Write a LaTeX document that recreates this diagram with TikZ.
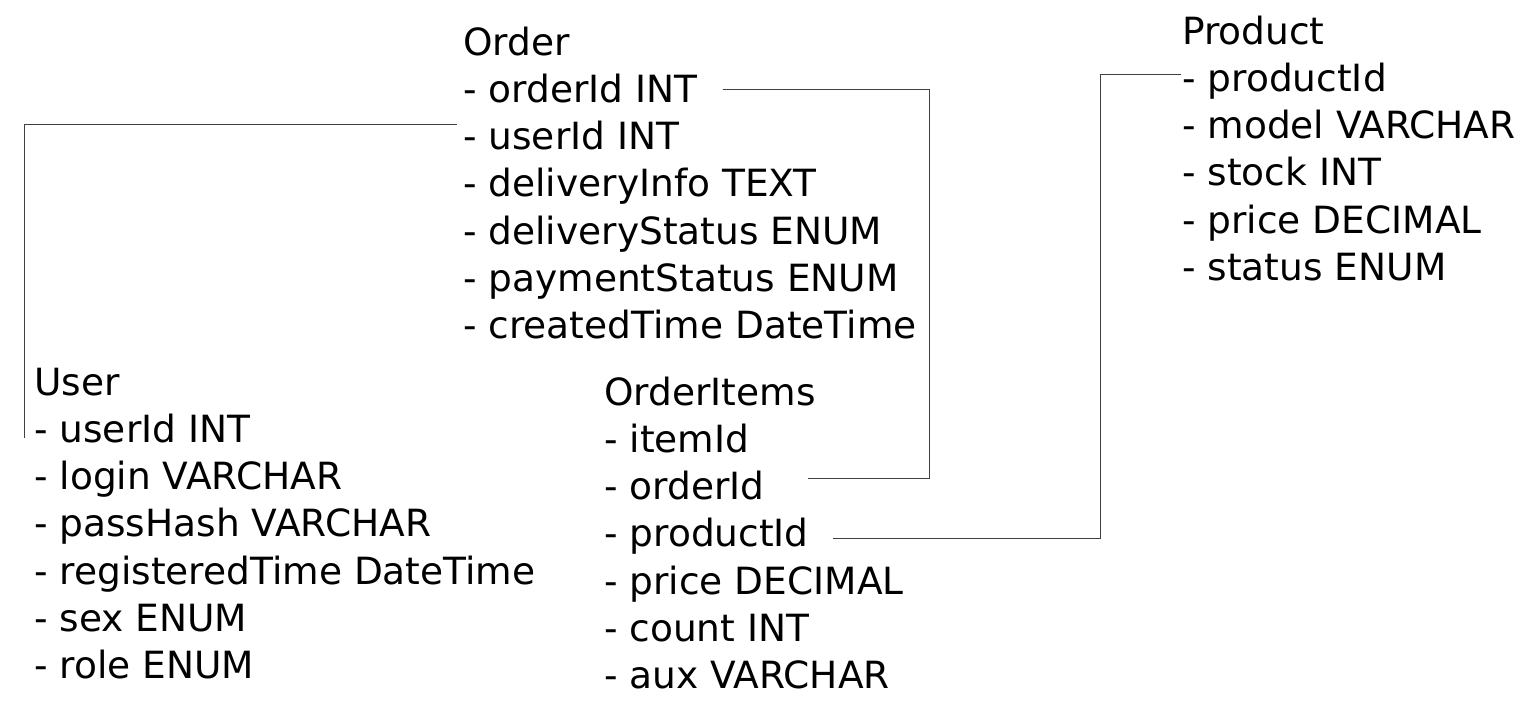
\documentclass[tikz,border=0pt]{standalone}
\usepackage{fontspec}
\setmainfont{DejaVu Sans}
\usepackage{tikz}
\usetikzlibrary{positioning}

\newcommand{\fieldfont}{\fontsize{37.5}{47}\selectfont}

\begin{document}
\begin{tikzpicture}[
    x=1pt, y=-1pt,
    node distance=0pt,
    field/.style={inner sep=0pt, text height=34pt, text depth=12.8pt, font=\fieldfont},
    title/.style={field, anchor=north west},
    row/.style={field, below right=of #1.south west},
    link/.style={draw=black!75, line width=1pt}
]
\useasboundingbox (0,0) rectangle (1526,713);

% Order
\node[title] (ord) at (463,21) {Order};
\node[row=ord] (ordOrderId) {- orderId INT};
\node[row=ordOrderId] (ordUserId) {- userId INT};
\node[row=ordUserId] (ordInfo) {- deliveryInfo TEXT};
\node[row=ordInfo] (ordDelivery) {- deliveryStatus ENUM};
\node[row=ordDelivery] (ordPayment) {- paymentStatus ENUM};
\node[row=ordPayment] (ordCreated) {- createdTime DateTime};

% User
\node[title] (usr) at (34,361) {User};
\node[row=usr] (usrUserId) {- userId INT};
\node[row=usrUserId] (usrLogin) {- login VARCHAR};
\node[row=usrLogin] (usrPass) {- passHash VARCHAR};
\node[row=usrPass] (usrTime) {- registeredTime DateTime};
\node[row=usrTime] (usrSex) {- sex ENUM};
\node[row=usrSex] (usrRole) {- role ENUM};

% OrderItems
\node[title] (itm) at (604,371) {OrderItems};
\node[row=itm] (itmItemId) {- itemId};
\node[row=itmItemId] (itmOrderId) {- orderId};
\node[row=itmOrderId] (itmProductId) {- productId};
\node[row=itmProductId] (itmPrice) {- price DECIMAL};
\node[row=itmPrice] (itmCount) {- count INT};
\node[row=itmCount] (itmAux) {- aux VARCHAR};

% Product
\node[title] (prd) at (1182,10) {Product};
\node[row=prd] (prdProductId) {- productId};
\node[row=prdProductId] (prdModel) {- model VARCHAR};
\node[row=prdModel] (prdStock) {- stock INT};
\node[row=prdStock] (prdPrice) {- price DECIMAL};
\node[row=prdPrice] (prdStatus) {- status ENUM};

% Links
\draw[link] ([xshift=-6pt, yshift=25.6pt]ordUserId.base west) -| ([xshift=-10pt, yshift=4.8pt]usrUserId.base west);
\draw[link] ([xshift=25pt, yshift=12.8pt]ordOrderId.base east) -- ++(207,0) |- ([xshift=43pt, yshift=21.6pt]itmOrderId.base east);
\draw[link] ([xshift=23.6pt, yshift=8.4pt]itmProductId.base east) -- ++(268,0) |- ([xshift=-1pt, yshift=16.8pt]prdProductId.base west);
\end{tikzpicture}
\end{document}
